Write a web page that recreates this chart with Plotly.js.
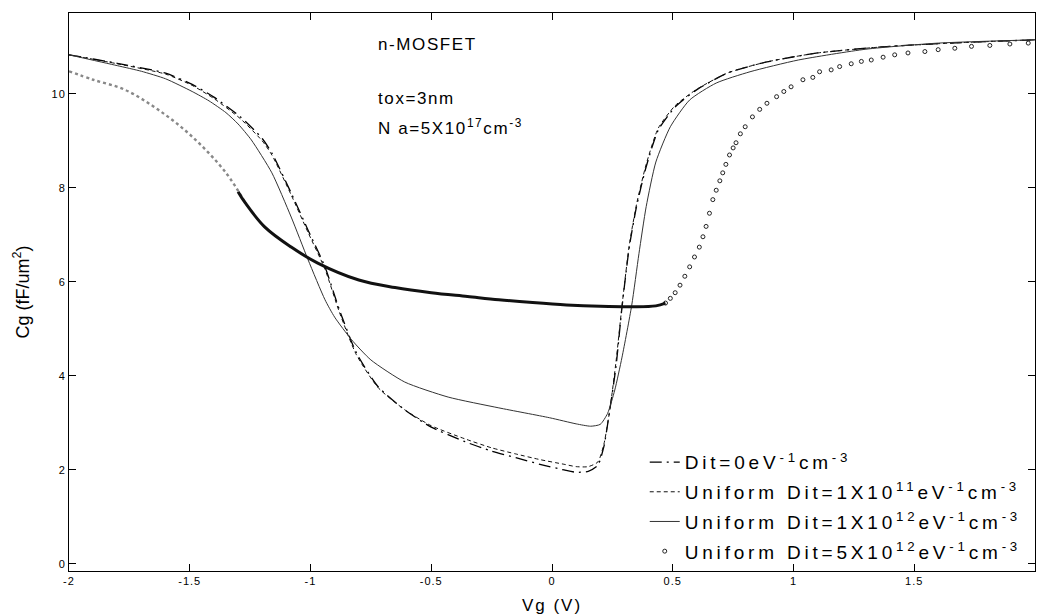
<!DOCTYPE html>
<html>
<head>
<meta charset="utf-8">
<script src="https://cdn.plot.ly/plotly-3.0.1.min.js"></script>
<style>
html,body{margin:0;padding:0;background:#fff;}
#chart{width:1039px;height:616px;}
.legendtext{letter-spacing:3.8px;}
.annotation-text{letter-spacing:1.6px;}
.xtick text,.ytick text{letter-spacing:1px;}
.xtitle{letter-spacing:2px;}
</style>
</head>
<body>
<div id="chart"></div>
<script>
// ---- data ----
const legendNames = [
  "Dit=0eV<sup>-1</sup>cm<sup>-3</sup>",
  "Uniform Dit=1X10<sup>11</sup>eV<sup>-1</sup>cm<sup>-3</sup>",
  "Uniform Dit=1X10<sup>12</sup>eV<sup>-1</sup>cm<sup>-3</sup>",
  "Uniform Dit=5X10<sup>12</sup>eV<sup>-1</sup>cm<sup>-3</sup>"
];

const dit0X = [-2, -1.8, -1.6, -1.49, -1.4, -1.29, -1.2, -1.16, -1.08, -1.01, -0.94, -0.88, -0.81, -0.72, -0.61, -0.5, -0.36, -0.25, -0.15, -0.05, 0.05, 0.1, 0.15, 0.19, 0.215, 0.237, 0.265, 0.29, 0.32, 0.35, 0.39, 0.44, 0.51, 0.6, 0.73, 0.89, 1.1, 1.37, 1.65, 2.0];
const dit0Y = [10.83, 10.65, 10.44, 10.2, 9.93, 9.51, 9.05, 8.74, 7.89, 7.1, 6.32, 5.4, 4.49, 3.77, 3.28, 2.91, 2.6, 2.4, 2.26, 2.12, 2.0, 1.95, 1.97, 2.1, 2.5, 3.2, 4.2, 5.47, 6.74, 7.6, 8.45, 9.23, 9.72, 10.09, 10.45, 10.68, 10.87, 11.0, 11.08, 11.15];

const d11X = [-2, -1.8, -1.6, -1.49, -1.4, -1.29, -1.2, -1.16, -1.08, -1.01, -0.94, -0.88, -0.81, -0.72, -0.61, -0.5, -0.36, -0.25, -0.15, -0.05, 0.05, 0.1, 0.15, 0.19, 0.215, 0.24, 0.265, 0.29, 0.32, 0.35, 0.39, 0.44, 0.51, 0.6, 0.73, 0.89, 1.1, 1.37, 1.65, 2.0];
const d11Y = [10.83, 10.64, 10.42, 10.18, 9.9, 9.47, 9.0, 8.7, 7.85, 7.05, 6.27, 5.35, 4.45, 3.75, 3.28, 2.94, 2.66, 2.47, 2.34, 2.22, 2.12, 2.07, 2.07, 2.17, 2.55, 3.3, 4.3, 5.5, 6.78, 7.65, 8.5, 9.27, 9.75, 10.1, 10.45, 10.68, 10.87, 11.0, 11.08, 11.15];

const d12X = [-2, -1.8, -1.7, -1.6, -1.49, -1.42, -1.35, -1.3, -1.245, -1.16, -1.08, -1.01, -0.94, -0.9, -0.83, -0.75, -0.61, -0.43, -0.22, -0.01, 0.1, 0.16, 0.2, 0.23, 0.26, 0.29, 0.33, 0.36, 0.39, 0.43, 0.49, 0.57, 0.68, 0.82, 1.02, 1.3, 1.6, 2.0];
const d12Y = [10.83, 10.6, 10.48, 10.32, 10.05, 9.85, 9.6, 9.36, 9.02, 8.32, 7.38, 6.47, 5.62, 5.25, 4.77, 4.34, 3.87, 3.55, 3.32, 3.11, 2.98, 2.93, 2.97, 3.2, 3.7, 4.4, 5.5, 6.6, 7.6, 8.55, 9.3, 9.87, 10.23, 10.47, 10.72, 10.95, 11.08, 11.15];

// 5e12: sparse grey dots on the left, dense (thick) mid part, open circles on the right
const d5LeftX = [-2, -1.9, -1.77, -1.63, -1.49, -1.35, -1.27];
const d5LeftY = [10.48, 10.3, 10.09, 9.66, 9.09, 8.32, 7.68];

const d5MidX = [-1.3, -1.27, -1.19, -1.08, -0.97, -0.8, -0.65, -0.5, -0.35, -0.22, -0.08, 0.06, 0.2, 0.33, 0.43, 0.47];
const d5MidY = [7.92, 7.68, 7.17, 6.74, 6.4, 6.04, 5.88, 5.77, 5.69, 5.62, 5.56, 5.51, 5.48, 5.47, 5.49, 5.55];

const d5PtsX = [0.47, 0.49, 0.51, 0.53, 0.55, 0.57, 0.59, 0.61, 0.625, 0.638, 0.652, 0.666, 0.68, 0.695, 0.707, 0.72, 0.735, 0.75, 0.762, 0.78, 0.8, 0.83, 0.86, 0.89, 0.93, 0.96, 0.99,
  1.039, 1.08, 1.108, 1.156, 1.191, 1.239, 1.281, 1.322, 1.371, 1.419, 1.474, 1.544, 1.599, 1.668, 1.737, 1.813, 1.896, 1.972];
const d5PtsY = [5.55, 5.65, 5.77, 5.93, 6.12, 6.32, 6.53, 6.74, 6.96, 7.18, 7.46, 7.75, 7.95, 8.15, 8.32, 8.5, 8.7, 8.85, 8.96, 9.15, 9.3, 9.51, 9.67, 9.8, 9.94, 10.05, 10.15,
  10.30, 10.35, 10.47, 10.51, 10.58, 10.64, 10.69, 10.72, 10.78, 10.83, 10.87, 10.90, 10.94, 10.97, 11.01, 11.03, 11.06, 11.08];

const xTicks = [-2, -1.5, -1, -0.5, 0, 0.5, 1, 1.5];
const xTickText = ["-2", "-1.5", "-1", "-0.5", "0", "0.5", "1", "1.5"];
const yTicks = [0, 2, 4, 6, 8, 10];
const yTickText = ["0", "2", "4", "6", "8", "10"];

const FONT = "Liberation Sans, Arial, sans-serif";

const traces = [
  {x: dit0X, y: dit0Y, name: legendNames[0], mode: "lines", legendgroup: "g1",
   line: {color: "#000", width: 1.3, dash: "12px,5px,2px,5px", shape: "spline", smoothing: 0.6}},
  {x: d11X, y: d11Y, name: legendNames[1], mode: "lines", legendgroup: "g2",
   line: {color: "#111", width: 1, dash: "4px,3px", shape: "spline", smoothing: 0.6}},
  {x: d12X, y: d12Y, name: legendNames[2], mode: "lines", legendgroup: "g3",
   line: {color: "#333", width: 1, shape: "spline", smoothing: 0.6}},
  {x: d5PtsX, y: d5PtsY, name: legendNames[3], mode: "markers", legendgroup: "g4",
   marker: {symbol: "circle-open", size: 4, color: "#222", line: {width: 1, color: "#222"}}},
  {x: d5LeftX, y: d5LeftY, mode: "lines", showlegend: false, hoverinfo: "skip", legendgroup: "g4",
   line: {color: "#888", width: 2.4, dash: "dot", shape: "spline"}},
  {x: d5MidX, y: d5MidY, mode: "lines", showlegend: false, hoverinfo: "skip", legendgroup: "g4",
   line: {color: "#111", width: 3, shape: "spline"}}
];

const layout = {
  width: 1039, height: 616,
  margin: {l: 69, r: 4, t: 13, b: 45, pad: 0},
  paper_bgcolor: "#fff", plot_bgcolor: "#fff",
  font: {family: FONT, color: "#000"},
  showlegend: true,
  legend: {x: 0.596, y: 0.229, xanchor: "left", yanchor: "top",
           bgcolor: "rgba(0,0,0,0)", borderwidth: 0,
           font: {family: FONT, size: 19, color: "#000"},
           traceorder: "grouped", tracegroupgap: 2},
  xaxis: {range: [-2, 2], tickvals: xTicks, ticktext: xTickText,
          ticks: "inside", ticklen: 7, tickcolor: "#000", tickwidth: 1,
          showline: true, linecolor: "#000", linewidth: 1, mirror: "ticks",
          showgrid: false, zeroline: false,
          tickfont: {family: FONT, size: 11},
          title: {text: "Vg (V)", font: {family: FONT, size: 17}, standoff: 12}},
  yaxis: {range: [-0.15, 11.72], tickvals: yTicks, ticktext: yTickText,
          ticks: "inside", ticklen: 7, tickcolor: "#000", tickwidth: 1,
          showline: true, linecolor: "#000", linewidth: 1, mirror: "ticks",
          showgrid: false, zeroline: false,
          tickfont: {family: FONT, size: 11},
          title: {text: "Cg (fF/um<sup>2</sup>)", font: {family: FONT, size: 18}, standoff: 17}},
  annotations: [
    {x: -0.73, y: 11.04, xref: "x", yref: "y", xanchor: "left", yanchor: "middle",
     text: "n-MOSFET", showarrow: false, font: {family: FONT, size: 17}},
    {x: -0.73, y: 9.91, xref: "x", yref: "y", xanchor: "left", yanchor: "middle",
     text: "tox=3nm", showarrow: false, font: {family: FONT, size: 17}},
    {x: -0.73, y: 9.3, xref: "x", yref: "y", xanchor: "left", yanchor: "middle",
     text: "N a=5X10<sup>17</sup>cm<sup>-3</sup>", showarrow: false, font: {family: FONT, size: 17}}
  ]
};

Plotly.newPlot("chart", traces, layout, {staticPlot: true, displayModeBar: false});
</script>
</body>
</html>
